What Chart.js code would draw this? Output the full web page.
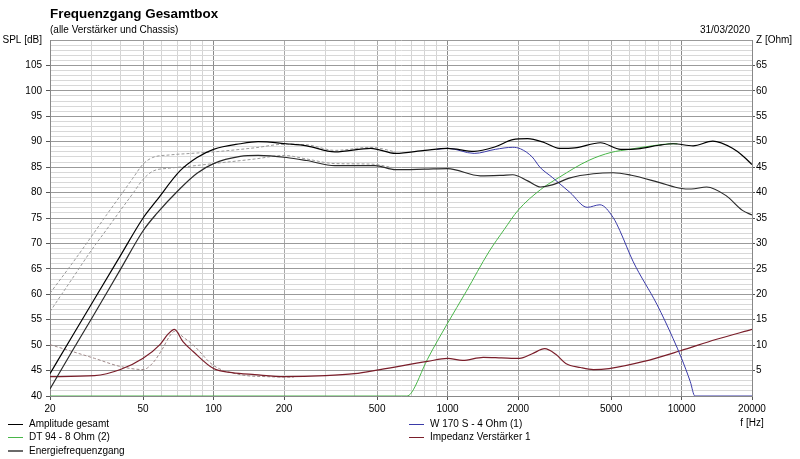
<!DOCTYPE html>
<html lang="de">
<head>
    <meta charset="UTF-8">
    <script src="https://cdn.jsdelivr.net/npm/chart.js"></script>
    <title>Frequenzgang Gesamtbox</title>
    <style>
        body { margin: 0; background: #fff; font-family: "Liberation Sans", Arial, sans-serif; }
        #wrap { position: relative; width: 800px; height: 459px; }
        #title { position: absolute; left: 50px; top: 6px; font-size: 13.4px; font-weight: bold; }
        #sub { position: absolute; left: 50px; top: 24px; font-size: 10px; }
        #date { position: absolute; right: 50px; top: 24px; font-size: 10px; }
        .leg { position: absolute; font-size: 10px; line-height: 12px; white-space: nowrap; }
        .leg span { display: inline-block; width: 15px; height: 0; vertical-align: middle; margin-right: 6px; border-top: 1px solid #000; }
    </style>
</head>
<body>
<div id="wrap">
    <canvas id="fgChart"></canvas>
    <div id="title">Frequenzgang Gesamtbox</div>
    <div id="sub">(alle Verstärker und Chassis)</div>
    <div id="date">31/03/2020</div>
</div>

<script>
// Amplitude gesamt (obere schwarze Kurve)
const ampFreq = [20,25,30,40,50,57,72,85,100,130,155,205,250,330,470,600,800,1000,1300,1600,1900,2200,2600,3000,3500,4500,5500,6500,8000,9200,11200,13600,16500,18500,20000];
const ampSpl  = [44.4,51.9,58,67.6,75,78.4,84.3,86.9,88.5,89.6,90,89.6,89.2,88,88.7,87.7,88.3,88.7,88.1,89,90.4,90.6,89.8,88.7,88.8,89.8,88.5,88.6,89.3,89.6,89.2,90.1,88.7,87,85.5];

// Energiefrequenzgang (untere Kurve)
const energyFreq = [20,25,30,40,50,57,72,85,100,130,155,205,250,330,490,600,800,1000,1380,1700,1900,2200,2500,2800,3340,4200,5100,6100,8000,10000,11000,12800,15500,18200,20000];
const energySpl  = [41.4,49,55.1,64.9,72.5,75.8,80.8,83.8,85.7,87.1,87.3,86.9,86.3,85.3,85.3,84.5,84.6,84.7,83.3,83.4,83.5,82.3,81.1,81.5,82.9,83.7,83.9,83.4,82,80.8,80.7,81.1,79.4,76.5,75.6];

// W 170 S - 4 Ohm (1)
const wooferFreq = [900,1000,1300,1600,1900,2050,2300,2480,2800,3340,3950,4480,5100,5450,6200,7850,9200,10000,10900,11400,20000];
const wooferSpl  = [88.5,88.7,87.7,88.5,88.9,88.6,87,85,83,80,77.1,77.6,75.1,72.5,66.5,58,51.3,47.4,42.8,40,40];

// DT 94 - 8 Ohm (2)
const tweeterFreq = [20,670,700,820,1000,1200,1500,1750,2000,2500,3000,4000,5000,6000,7500,9200,9600];
const tweeterSpl  = [40,40,40.6,47.2,54.3,60.5,68.3,72.8,76.5,80.6,83,86.3,87.9,88.5,89.2,89.6,89.6];

// Impedanz Verstärker 1 (rechte Achse, Ohm)
const impFreq = [20,31,40,50,59,64,68,74,82,100,120,150,200,300,400,514,820,1000,1160,1420,1700,2030,2300,2600,2900,3200,3700,4200,4900,6900,9900,14000,20000];
const impOhm  = [3.8,4.0,5.2,7.4,10.1,12.2,13.1,10.7,8.7,5.4,4.6,4.2,3.8,4.0,4.4,5.2,6.8,7.4,7.0,7.6,7.5,7.4,8.3,9.3,8.2,6.4,5.6,5.2,5.4,6.8,8.9,11.1,13.1];

// gestrichelte Vergleichskurven (ohne Legende)
const cmpFreq     = [20,25,30,35,40,45,50,55,65,80,100,150,200,250,330,470,600];
const cmpUpperSpl = [60.2,66.2,71.3,75.7,79.4,82.7,85.6,86.9,87.4,87.7,88,88.8,89.5,89.4,88.3,88.9,88];
const cmpLowerSpl = [56.6,63.2,68.6,72.8,76.5,79.7,82.6,84.2,84.8,85.2,85.7,86.6,87.3,86.6,85.7,85.6,84.8];
const cmpImpFreq  = [20,31,40,50,55,60,65,68,75,82,100,130,170,220];
const cmpImpOhm   = [10.1,7.4,5.8,5.2,6.5,9,11.8,12.7,11.4,10,6,4.2,3.8,3.7];

const xLabels = [20,50,100,200,500,1000,2000,5000,10000,20000];
const xDecades = [100,1000,10000];

function pts(f, v) { return f.map((x, i) => ({ x: x, y: v[i] })); }

const datasets = [
    { label: 'Amplitude gesamt', data: pts(ampFreq, ampSpl), borderColor: '#000000', borderWidth: 1.2, yAxisID: 'y', legend: [8, 418] },
    { label: 'Energiefrequenzgang', data: pts(energyFreq, energySpl), borderColor: '#2a2a2a', borderWidth: 1.2, yAxisID: 'y', legend: [8, 445], swatch: '2px solid #6a6a6a' },
    { label: 'W 170 S - 4 Ohm (1)', data: pts(wooferFreq, wooferSpl), borderColor: '#3a3aa8', borderWidth: 1, yAxisID: 'y', legend: [409, 418] },
    { label: 'Impedanz Verstärker 1', data: pts(impFreq, impOhm), borderColor: '#7a1e2a', borderWidth: 1.2, yAxisID: 'y2', legend: [409, 431] },
    { label: 'DT 94 - 8 Ohm (2)', data: pts(tweeterFreq, tweeterSpl), borderColor: '#49b649', borderWidth: 1, yAxisID: 'y', legend: [8, 431] },
    { label: '', data: pts(cmpFreq, cmpUpperSpl), borderColor: '#9a9a9a', borderWidth: 1, borderDash: [3, 2], yAxisID: 'y' },
    { label: '', data: pts(cmpFreq, cmpLowerSpl), borderColor: '#9a9a9a', borderWidth: 1, borderDash: [3, 2], yAxisID: 'y' },
    { label: '', data: pts(cmpImpFreq, cmpImpOhm), borderColor: '#a08a8a', borderWidth: 1, borderDash: [3, 2], yAxisID: 'y2' }
];

// Legende als Text unter dem Diagramm
const wrap = document.getElementById('wrap');
datasets.filter(d => d.legend).forEach(d => {
    const el = document.createElement('div');
    el.className = 'leg';
    el.style.left = d.legend[0] + 'px';
    el.style.top = d.legend[1] + 'px';
    const sw = document.createElement('span');
    sw.style.borderTop = d.swatch || ('1px solid ' + d.borderColor);
    el.appendChild(sw);
    el.appendChild(document.createTextNode(d.label));
    wrap.appendChild(el);
});

const ctx = document.getElementById('fgChart').getContext('2d');
new Chart(ctx, {
    type: 'line',
    data: {
        datasets: datasets.map(d => Object.assign({
            pointRadius: 0,
            fill: false,
            cubicInterpolationMode: 'monotone'
        }, d))
    },
    options: {
        responsive: true,
        maintainAspectRatio: false,
        animation: false,
        layout: { padding: { top: 40, left: 0, right: 0, bottom: 0 } },
        plugins: { legend: { display: false }, tooltip: { enabled: false } },
        scales: {
            x: {
                type: 'logarithmic',
                min: 20,
                max: 20000,
                afterBuildTicks: scale => {
                    const t = [];
                    [10, 100, 1000, 10000].forEach(d => {
                        for (let m = 1; m <= 9; m++) {
                            const v = m * d;
                            if (v >= 20 && v <= 20000) t.push({ value: v });
                        }
                    });
                    scale.ticks = t;
                },
                afterFit: scale => { scale.height = 63; },
                ticks: {
                    autoSkip: false,
                    maxRotation: 0,
                    padding: 2,
                    color: '#000',
                    font: { family: 'Liberation Sans', size: 10, lineHeight: 1.4 },
                    callback: v => {
                        if (v === 20000) return ['20000', 'f [Hz]'];
                        return xLabels.includes(v) ? String(v) : '';
                    }
                },
                grid: {
                    tickLength: 4,
                    color: c => xDecades.includes(c.tick.value) ? '#8a8a8a' : (xLabels.includes(c.tick.value) ? '#a8a8a8' : '#d4d4d4'),
                    tickColor: c => xLabels.includes(c.tick.value) ? '#555' : 'rgba(0,0,0,0)'
                },
                border: { color: '#888' }
            },
            y: {
                position: 'left',
                min: 40,
                max: 110,
                afterFit: scale => { scale.width = 50; },
                ticks: {
                    stepSize: 1,
                    autoSkip: false,
                    padding: 4,
                    color: '#000',
                    font: { family: 'Liberation Sans', size: 10 },
                    callback: v => v === 110 ? 'SPL [dB]' : (v % 5 === 0 ? String(v) : '')
                },
                grid: {
                    tickLength: 4,
                    color: c => c.tick.value % 5 === 0 ? '#9a9a9a' : '#d8d8d8',
                    tickColor: c => (c.tick.value % 5 === 0 && c.tick.value !== 110) ? '#555' : 'rgba(0,0,0,0)'
                },
                border: { color: '#888' }
            },
            y2: {
                position: 'right',
                min: 0,
                max: 70,
                afterFit: scale => { scale.width = 48; },
                ticks: {
                    stepSize: 1,
                    autoSkip: false,
                    padding: 1,
                    color: '#000',
                    font: { family: 'Liberation Sans', size: 10 },
                    callback: v => v === 70 ? 'Z [Ohm]' : ((v % 5 === 0 && v !== 0) ? String(v) : '')
                },
                grid: {
                    drawOnChartArea: false,
                    tickLength: 3,
                    tickColor: c => (c.tick.value % 5 === 0 && c.tick.value !== 0 && c.tick.value !== 70) ? '#555' : 'rgba(0,0,0,0)'
                },
                border: { color: '#888' }
            }
        }
    }
});
</script>
</body>
</html>
